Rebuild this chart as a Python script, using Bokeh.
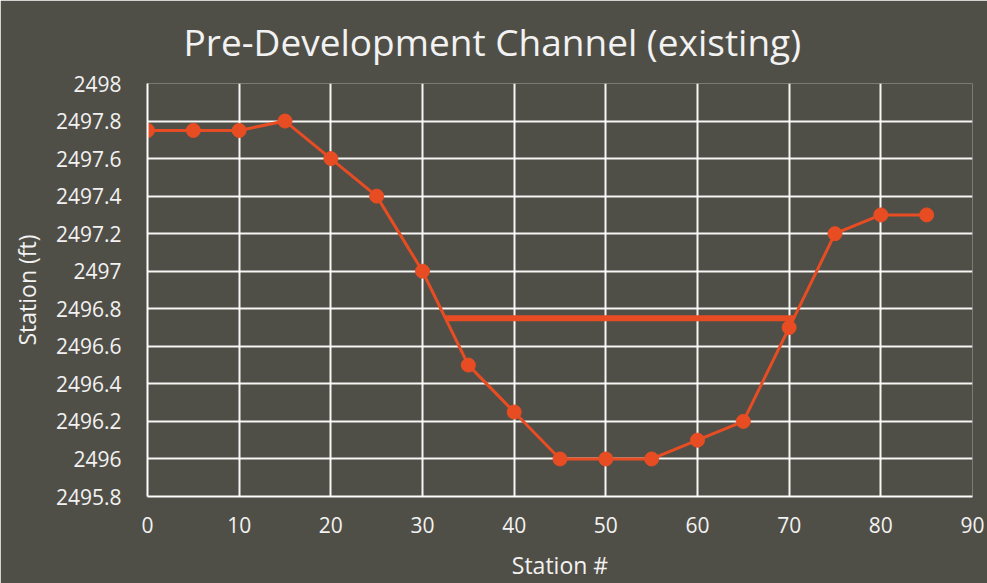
from bokeh.plotting import figure
from bokeh.models import FixedTicker, Range1d
from bokeh.embed import file_html
from bokeh.resources import INLINE

station = [0, 5, 10, 15, 20, 25, 30, 35, 40, 45, 50, 55, 60, 65, 70, 75, 80, 85]
elev = [2497.75, 2497.75, 2497.75, 2497.8, 2497.6, 2497.4, 2497.0, 2496.5, 2496.25,
        2496.0, 2496.0, 2496.0, 2496.1, 2496.2, 2496.7, 2497.2, 2497.3, 2497.3]
water_x = [32.5, 70.5]
water_y = [2496.75, 2496.75]
x_ticks = [0, 10, 20, 30, 40, 50, 60, 70, 80, 90]
y_ticks = [2495.8, 2496.0, 2496.2, 2496.4, 2496.6, 2496.8, 2497.0, 2497.2, 2497.4, 2497.6, 2497.8, 2498.0]
y_labels = ["2495.8", "2496", "2496.2", "2496.4", "2496.6", "2496.8", "2497", "2497.2",
            "2497.4", "2497.6", "2497.8", "2498"]
title_text = "Pre-Development Channel (existing)"

BG = "#504f47"
ORANGE = "#e84c22"
FONT = "Open Sans"
TXT = "#f2f2f2"

p = figure(width=987, height=583, output_backend="svg", toolbar_location=None,
           x_range=Range1d(0, 90), y_range=Range1d(2495.8, 2498.0),
           min_border_left=147, min_border_right=15, min_border_top=78, min_border_bottom=86)
p.background_fill_color = BG
p.border_fill_color = BG
p.outline_line_color = None

p.title.text = title_text
p.title.align = "left"
p.title.offset = 36
p.title.standoff = 30
p.title.vertical_align = "top"
p.title.text_font = FONT
p.title.text_font_style = "normal"
p.title.text_font_size = "37px"
p.title.text_color = TXT

p.xaxis.ticker = FixedTicker(ticks=x_ticks)
p.yaxis.ticker = FixedTicker(ticks=y_ticks)
p.yaxis.major_label_overrides = {t: l for t, l in zip(y_ticks, y_labels)}
p.xaxis.axis_label = "Station #"
p.yaxis.axis_label = "Station (ft)"
for ax in (p.xaxis, p.yaxis):
    ax.axis_line_color = "white"
    ax.axis_line_width = 2
    ax.major_tick_line_color = None
    ax.minor_tick_line_color = None
    ax.major_label_text_font = FONT
    ax.major_label_text_font_size = "21px"
    ax.major_label_text_color = TXT
    ax.axis_label_text_font = FONT
    ax.axis_label_text_font_size = "23px"
    ax.axis_label_text_font_style = "normal"
    ax.axis_label_text_color = TXT
p.xaxis.major_label_standoff = 14
p.yaxis.major_label_standoff = 20
p.xaxis.axis_label_standoff = 13
p.yaxis.axis_label_standoff = 10

p.xgrid.grid_line_color = "white"
p.ygrid.grid_line_color = "white"
p.xgrid.grid_line_width = 2
p.ygrid.grid_line_width = 2
p.xgrid.grid_line_alpha = 0.95
p.ygrid.grid_line_alpha = 0.95

p.line(station, elev, line_color=ORANGE, line_width=3)
p.scatter(station, elev, size=14, fill_color=ORANGE, line_color=ORANGE)
p.line(water_x, water_y, line_color=ORANGE, line_width=6)

open("out.html", "w").write(file_html(p, INLINE))
